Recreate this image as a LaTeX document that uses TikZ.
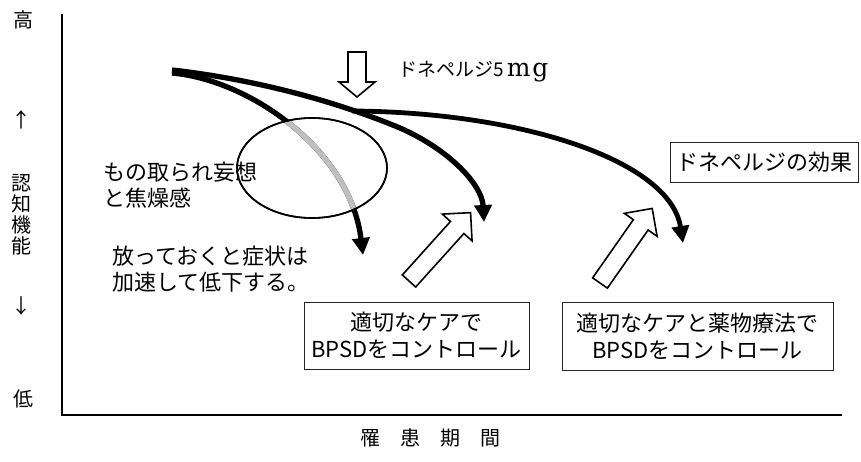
\documentclass[tikz,border=0pt]{standalone}
\usepackage{fontspec}
\newfontfamily\jp{Noto Sans CJK JP}
\newfontfamily\serifmg{DejaVu Serif}
\usetikzlibrary{arrows.meta,shapes.geometric}
\begin{document}
\begin{tikzpicture}[x=1pt,y=-1pt,
  txt/.style={font=\jp\fontsize{22}{26}\selectfont, inner sep=0pt, align=left, anchor=west},
  axlbl/.style={font=\jp\fontsize{20}{24}\selectfont, inner sep=0pt},
  curve/.style={line width=5.3pt, -{Triangle[length=17pt,width=17pt]}},
  boxnode/.style={draw=black!85, line width=0.8pt, font=\jp\fontsize{22}{27}\selectfont, align=center, inner sep=0pt},
  hollow/.style={draw=black, line width=1.6pt, fill=white, line join=miter}
]
\useasboundingbox (0,0) rectangle (861,462);
% axes
\coordinate (ytop) at (62,14);
\coordinate (origin) at (62,415);
\coordinate (xend) at (842,415);
\draw[line width=2pt] (ytop) -- (origin) -- (xend);
% axis labels
\node[axlbl] (hi) at (23,20) {高};
\node[axlbl] (up) at (21,120) {↑};
\node[axlbl] (n1) at (21,183) {認};
\node[axlbl] (n2) at (21,204) {知};
\node[axlbl] (n3) at (21,225) {機};
\node[axlbl] (n4) at (21,246) {能};
\node[axlbl] (dn) at (21,306) {↓};
\node[axlbl] (lo) at (23,399) {低};
\node[axlbl] (xl) at (430,438) {罹\hspace{20pt}患\hspace{20pt}期\hspace{20pt}間};
% ellipse
\node[draw, line width=1.6pt, ellipse, minimum width=150, minimum height=100, inner sep=0pt] (ell) at (312,168) {};
% curves
\coordinate (S) at (172,70);
\coordinate (S2) at (172,73);
\coordinate (F) at (352,111);
\coordinate (A1) at (363,255);
\coordinate (A2) at (484,222);
\coordinate (A3) at (683,243);
\draw[curve] (S2) .. controls (250,80) and (350,150) .. (A1);
\begin{scope}
  \clip (312,168) ellipse [x radius=74, y radius=49];
  \draw[curve, draw=black!25] (S2) .. controls (250,80) and (350,150) .. (A1);
\end{scope}
\draw[line width=1.6pt] (ell.center) ellipse [x radius=75, y radius=50];
\draw[curve] (S) .. controls (260,80) and (340,103) .. (400,128) .. controls (450,150) and (482,185) .. (A2);
\draw[curve, line width=4.8pt] (F) .. controls (520,112) and (670,160) .. (A3);
% hollow arrows
\draw[hollow] (348,52) -- (366,52) -- (366,82) -- (375,82) -- (357,97) -- (339,82) -- (348,82) -- cycle;
\draw[hollow, shift={(409,281)}, rotate=48] (0,-9) -- (72,-9) -- (72,-20) -- (92,0) -- (72,20) -- (72,9) -- (0,9) -- cycle;
\draw[hollow, shift={(600,283)}, rotate=55] (0,-9) -- (71,-9) -- (71,-20) -- (91,0) -- (71,20) -- (71,9) -- (0,9) -- cycle;
% texts
\node[font=\jp\fontsize{19}{22}\selectfont, inner sep=0pt, anchor=west] (dose) at (398,72) {ドネペルジ5\hspace{3pt}{\serifmg\fontsize{25}{25}\selectfont m\hspace{2pt}g}};
\node[txt] (t1) at (103,185) {もの取られ妄想\\と焦燥感};
\node[txt] (t2) at (112,269) {放っておくと症状は\\加速して低下する。};
\node[boxnode, minimum width=188, minimum height=40] (b3) at (764,162) {ドネペルジの効果};
\node[boxnode, minimum width=225, minimum height=67] (b1) at (416.5,335.5) {適切なケアで\\BPSDをコントロール};
\node[boxnode, minimum width=271, minimum height=68] (b2) at (697.5,336) {適切なケアと薬物療法で\\BPSDをコントロール};
\end{tikzpicture}
\end{document}
